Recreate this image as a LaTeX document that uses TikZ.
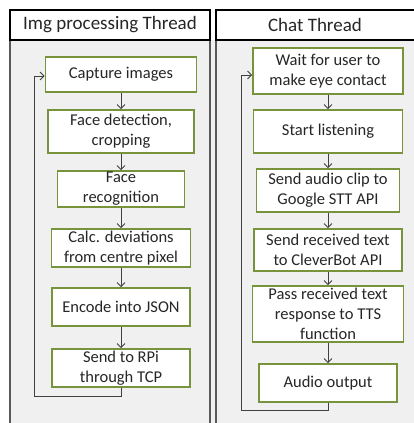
\documentclass[tikz,border=0pt]{standalone}
\usepackage{fontspec}
\setmainfont{Carlito}
\usetikzlibrary{arrows.meta}
\definecolor{panelfill}{HTML}{F0F0F0}
\definecolor{panelline}{HTML}{595959}
\definecolor{boxline}{HTML}{77933C}
\definecolor{linkline}{HTML}{404040}
\definecolor{txt}{HTML}{262626}
\tikzset{
  panel/.style={fill=panelfill, draw=panelline, line width=1.5pt},
  title/.style={fill=white, draw=black, line width=1.8pt},
  titletext/.style={text=txt, font=\fontsize{19}{22}\selectfont},
  stepbox/.style={draw=boxline, fill=white, line width=1.6pt, align=center,
    text=txt, inner sep=1pt, font=\fontsize{16.5}{20}\selectfont},
  arr/.style={draw=linkline, line width=0.9pt, -{Straight Barb[length=4pt,width=8pt]}},
}
\begin{document}
\begin{tikzpicture}[x=1pt,y=-1pt]
\useasboundingbox (0,0) rectangle (413,423);

% panel bodies and the strip between them
\fill[panelfill] (210,40) rectangle (216,430);
\draw[panel] (10,40) rectangle (210,430);
\draw[panel] (216,40) rectangle (425,430);

% panel headings
\draw[title] (10,10) rectangle (210,40);
\draw[title] (216,10) rectangle (425,40);
\node[titletext] (ltitle) at (110,25) {Img processing Thread};
\node[titletext] (rtitle) at (315,25) {Chat Thread};

% image processing steps
\node[stepbox, minimum width=151pt, minimum height=35pt] (cap)  at (121,74.5) {Capture images};
\node[stepbox, minimum width=146pt, minimum height=43pt] (fdet) at (121,131.5) {Face detection,\\cropping};
\node[stepbox, minimum width=127pt, minimum height=36pt] (frec) at (121,189) {Face\\recognition};
\node[stepbox, minimum width=139pt, minimum height=38pt] (calc) at (121,248) {Calc. deviations\\from centre pixel};
\node[stepbox, minimum width=138pt, minimum height=38pt] (enc)  at (121,307) {Encode into JSON};
\node[stepbox, minimum width=138pt, minimum height=38pt] (send) at (121,368) {Send to RPi\\through TCP};

\draw[arr] (cap) -- (fdet);
\draw[arr] (fdet) -- (frec);
\draw[arr] (frec) -- (calc);
\draw[arr] (calc) -- (enc);
\draw[arr] (enc) -- (send);
\coordinate (lbot) at (34,396);
\coordinate (ltop) at (34,76);
\draw[arr] (send.south) |- (lbot) -- (ltop) -- (ltop -| cap.west);

% chat steps
\node[stepbox, minimum width=150pt, minimum height=46pt] (wait)  at (328,71) {Wait for user to\\make eye contact};
\node[stepbox, minimum width=149pt, minimum height=43pt] (listen) at (328,131.5) {Start listening};
\node[stepbox, minimum width=143pt, minimum height=43pt] (stt)   at (328,190.5) {Send audio clip to\\Google STT API};
\node[stepbox, minimum width=148pt, minimum height=42pt] (cbot)  at (328,250) {Send received text\\to CleverBot API};
\node[stepbox, minimum width=151pt, minimum height=56pt] (tts)   at (328,314) {Pass received text\\response to TTS\\function};
\node[stepbox, minimum width=138pt, minimum height=38pt] (audio) at (328,383) {Audio output};

\draw[arr] (wait) -- (listen);
\draw[arr] (listen) -- (stt);
\draw[arr] (stt) -- (cbot);
\draw[arr] (cbot) -- (tts);
\draw[arr] (tts) -- (audio);
\coordinate (rbot) at (241,410);
\coordinate (rtop) at (241,75);
\draw[arr] (audio.south) |- (rbot) -- (rtop) -- (rtop -| wait.west);
\end{tikzpicture}
\end{document}
